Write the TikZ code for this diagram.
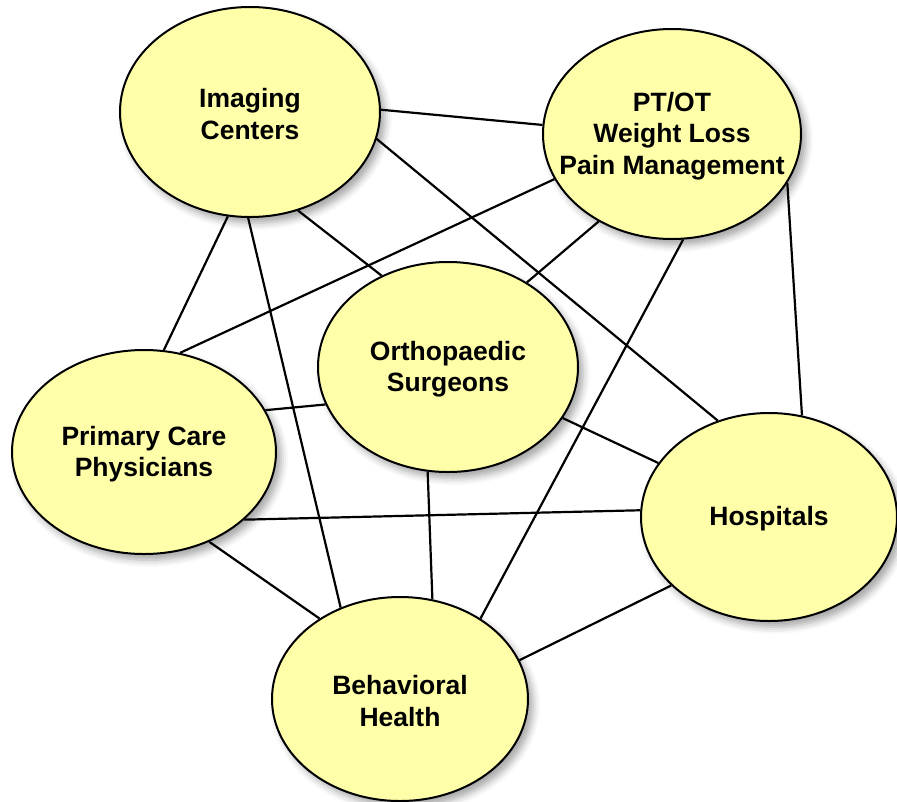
\documentclass[tikz,border=0pt]{standalone}
\usepackage{fontspec}
\setmainfont{Liberation Sans}
\usetikzlibrary{shapes.geometric,shadows.blur}
\definecolor{bubblefill}{RGB}{255,255,170}
\tikzset{
  bubble/.style={ellipse, draw=black, line width=2pt, fill=bubblefill,
    inner sep=0pt,
    blur shadow={shadow xshift=5pt, shadow yshift=-6pt,
      shadow blur radius=7pt, shadow opacity=35}},
  caption/.style={align=center, inner sep=0pt, yshift=-2pt,
    font=\bfseries\fontsize{26.5}{31.5}\selectfont},
  link/.style={draw=black, line width=2.2pt}
}
\begin{document}
\begin{tikzpicture}[x=1pt,y=-1pt]
\useasboundingbox (0,0) rectangle (897,801);
% the six partners, one ellipse each, with the name set in the middle
\node[bubble, minimum width=260pt, minimum height=210pt,
  label={[caption]center:Imaging\\Centers}] (img) at (250,112) {};
\node[bubble, minimum width=258pt, minimum height=210pt,
  label={[caption]center:PT/OT\\Weight Loss\\Pain Management}] (pt) at (672,134) {};
\node[bubble, minimum width=260pt, minimum height=210pt,
  label={[caption]center:Orthopaedic\\Surgeons}] (ortho) at (448,367) {};
\node[bubble, minimum width=264pt, minimum height=204pt,
  label={[caption]center:Primary Care\\Physicians}] (pcp) at (144,452) {};
\node[bubble, minimum width=256pt, minimum height=208pt,
  label={[caption]center:Hospitals}] (hosp) at (769,517) {};
\node[bubble, minimum width=256pt, minimum height=204pt,
  label={[caption]center:Behavioral\\Health}] (beh) at (400,699) {};
% connections between partners, from border to border
\draw[link] (img.1)     -- (pt.176);
\draw[link] (img.-12)   -- (hosp.118.6);
\draw[link] (img.-64.4) -- (ortho.126.8);
\draw[link] (img.-102.8) -- (pcp.79.9);
\draw[link] (img.-91)   -- (beh.123.1);
\draw[link] (pt.201.6)  -- (pcp.70.2);
\draw[link] (pt.230.9)  -- (ortho.47.3);
\draw[link] (pt.-84)    -- (beh.45.4);
\draw[link] (pt.-23.9)  -- (hosp.72.6);
\draw[link] (ortho.197) -- (pcp.19.1);
\draw[link] (ortho.-24.4) -- (hosp.154.5);
\draw[link] (ortho.-101.8) -- (beh.72.7);
\draw[link] (pcp.-34.1) -- (hosp.177.9);
\draw[link] (pcp.-54)   -- (beh.135.4);
\draw[link] (hosp.215.3) -- (beh.18.4);
\end{tikzpicture}
\end{document}
